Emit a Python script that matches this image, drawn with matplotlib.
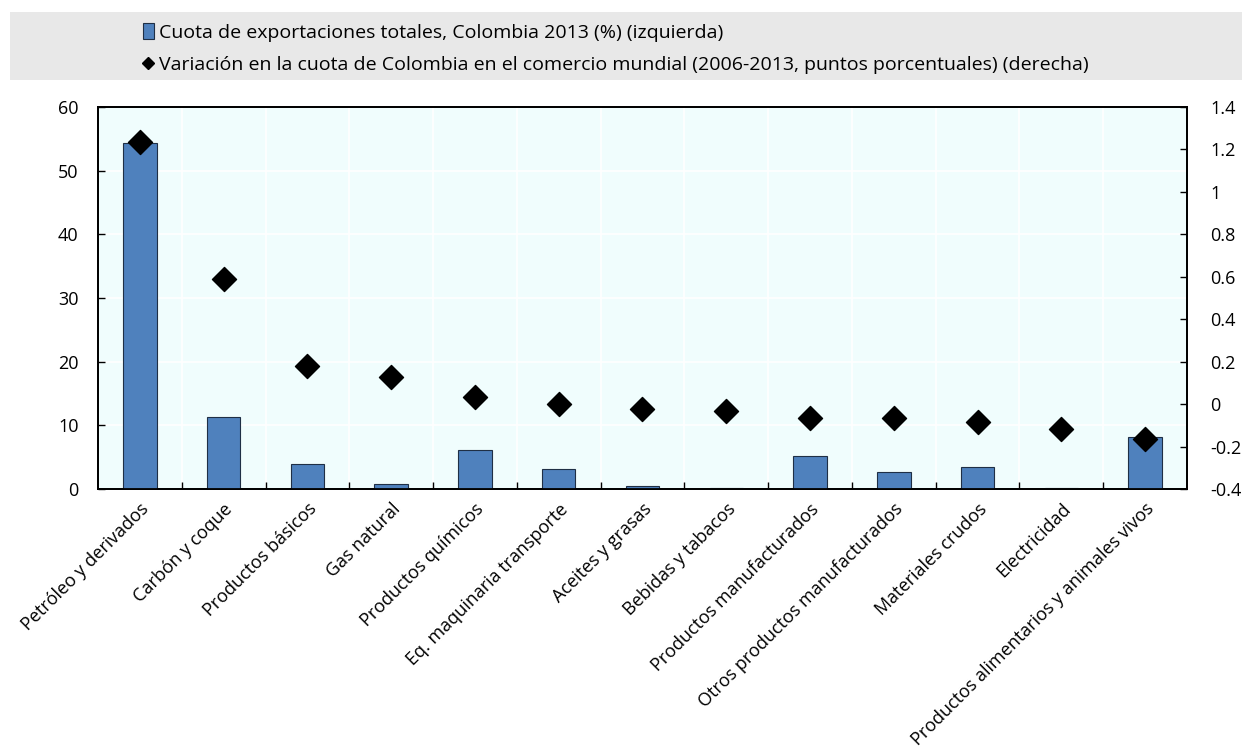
import matplotlib.pyplot as plt
import numpy as np
from matplotlib.lines import Line2D
from matplotlib.patches import Rectangle

plt.rcParams['font.family'] = ['Open Sans', 'DejaVu Sans']

# datos
categorias = ['Petróleo y derivados', 'Carbón y coque', 'Productos básicos', 'Gas natural',
              'Productos químicos', 'Eq. maquinaria transporte', 'Aceites y grasas',
              'Bebidas y tabacos', 'Productos manufacturados', 'Otros productos manufacturados',
              'Materiales crudos', 'Electricidad', 'Productos alimentarios y animales vivos']
cuota = [54.4, 11.35, 3.9, 0.75, 6.2, 3.1, 0.4, 0.15, 5.2, 2.6, 3.45, 0.15, 8.2]
variacion = [1.237, 0.59, 0.18, 0.13, 0.035, 0.0, -0.023, -0.031, -0.067, -0.067, -0.086, -0.119, -0.166]

lbl_barras = 'Cuota de exportaciones totales, Colombia 2013 (%) (izquierda)'
lbl_puntos = 'Variación en la cuota de Colombia en el comercio mundial (2006-2013, puntos porcentuales) (derecha)'

x = np.arange(len(categorias))
fs = 13

fig = plt.figure(figsize=(12.42, 7.47), dpi=100)
ax = fig.add_axes([0.0789, 0.3454, 0.8768, 0.5114])
ax.set_facecolor('#F0FDFD')

ax.bar(x, cuota, width=0.4, color='#4F81BD', edgecolor='#1F2F45', linewidth=0.8, zorder=3)
ax.set_xlim(-0.5, len(categorias) - 0.5)
ax.set_ylim(0, 60)
ax.set_yticks(np.arange(0, 61, 10))

# grid blanco
for yv in np.arange(10, 60, 10):
    ax.axhline(yv, color='white', lw=1.2, zorder=1)
for xv in np.arange(0.5, len(categorias) - 0.5, 1):
    ax.axvline(xv, color='white', lw=1.2, zorder=1)

ax.set_xticks(x)
ax.set_xticklabels(categorias, rotation=45, ha='right', rotation_mode='anchor', fontsize=fs)
ax.tick_params(axis='x', length=0, pad=8)
ax.set_xticks(np.arange(0.5, len(categorias) - 0.5, 1), minor=True)
ax.tick_params(axis='x', which='minor', direction='in', length=5, width=1)
ax.tick_params(axis='y', direction='in', length=5, width=1, labelsize=fs, pad=14)

ax2 = ax.twinx()
ax2.scatter(x, variacion, marker='D', s=150, color='black', zorder=5)
ax2.set_ylim(-0.4, 1.4)
ax2.set_yticks(np.arange(-0.4, 1.41, 0.2))
ax2.set_yticklabels(['-0.4', '-0.2', '0', '0.2', '0.4', '0.6', '0.8', '1', '1.2', '1.4'])
ax2.tick_params(axis='y', direction='in', length=5, width=1, labelsize=fs, pad=17)

for a in (ax, ax2):
    for s in a.spines.values():
        s.set_linewidth(1.3)
        s.set_color('black')

# leyenda con fondo gris
fig.patches.append(Rectangle((10 / 1242, 1 - 80 / 747), 1 - 10 / 1242, 68 / 747,
                             transform=fig.transFigure, facecolor='#E8E8E8', edgecolor='none', zorder=0))
h1 = Rectangle((0, 0), 1, 1, facecolor='#4F81BD', edgecolor='#1F2F45', linewidth=0.8)
h2 = Line2D([], [], marker='D', color='black', linestyle='none', markersize=6)
fig.legend([h1, h2], [lbl_barras, lbl_puntos], loc='upper left', bbox_to_anchor=(143 / 1242, 1 - 23 / 747),
           frameon=False, fontsize=14, handlelength=0.55, handleheight=0.9, handletextpad=0.25,
           labelspacing=0.7, borderaxespad=0, borderpad=0)

fig.savefig('out.png', dpi=100)
